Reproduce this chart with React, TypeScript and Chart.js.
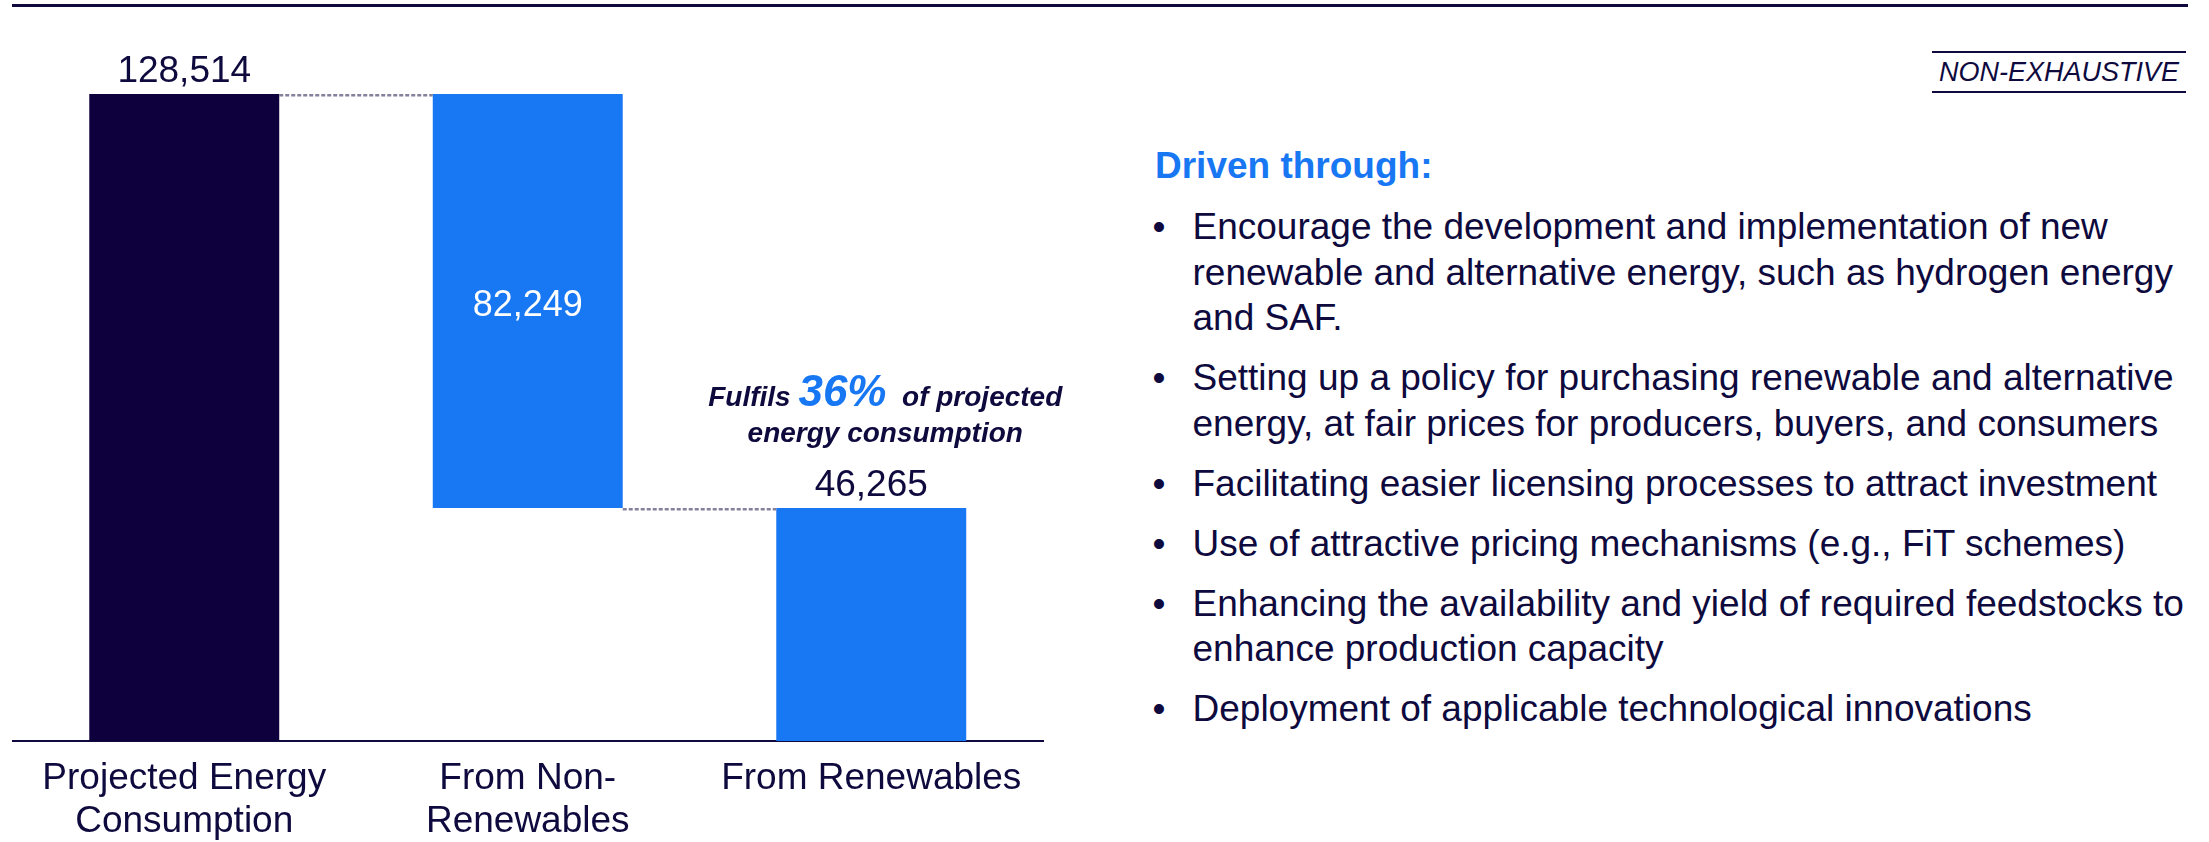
import React, { useEffect, useRef } from "react";
import { Chart, registerables } from "chart.js";

Chart.register(...registerables);

// ---------- data ----------
const categories: string[][] = [
  ["Projected Energy", "Consumption"],
  ["From Non-", "Renewables"],
  ["From Renewables"],
];
const values: number[] = [128514, 82249, 46265];
const valueLabels: string[] = ["128,514", "82,249", "46,265"];
const barColors: string[] = ["#0E003C", "#1877F2", "#1877F2"];
const annotationLine1: string[] = ["Fulfils ", "36%", "  of projected"];
const annotationLine2 = "energy consumption";
const heading = "Driven through:";
const tagText = "NON-EXHAUSTIVE";
const bullets: string[][] = [
  [
    "Encourage the development and implementation of new",
    "renewable and alternative energy, such as hydrogen energy",
    "and SAF.",
  ],
  [
    "Setting up a policy for purchasing renewable and alternative",
    "energy, at fair prices for producers, buyers, and consumers",
  ],
  ["Facilitating easier licensing processes to attract investment"],
  ["Use of attractive pricing mechanisms (e.g., FiT schemes)"],
  [
    "Enhancing the availability and yield of required feedstocks to",
    "enhance production capacity",
  ],
  ["Deployment of applicable technological innovations"],
];

// waterfall ranges built from the values
const ranges: [number, number][] = [
  [0, values[0]],
  [values[0] - values[1], values[0]],
  [0, values[2]],
];
const connectorLevels: number[] = [values[0], values[0] - values[1]];

const NAVY = "#0E0A3E";
const BLUE = "#1877F2";
const FONT = '"Liberation Sans", Arial, sans-serif';

const waterfallPlugin = {
  id: "waterfallExtras",
  afterDatasetsDraw(chart: any) {
    const ctx: CanvasRenderingContext2D = chart.ctx;
    const meta = chart.getDatasetMeta(0);
    const yScale = chart.scales.y;
    const bars = meta.data.map((el: any) =>
      el.getProps(["x", "y", "base", "width"], true)
    );
    ctx.save();
    // dashed connectors
    ctx.strokeStyle = "#85809C";
    ctx.lineWidth = 2.5;
    ctx.setLineDash([4, 2]);
    for (let i = 0; i < bars.length - 1; i++) {
      const a = bars[i];
      const b = bars[i + 1];
      const py = Math.round(yScale.getPixelForValue(connectorLevels[i])) + 1.25;
      ctx.beginPath();
      ctx.moveTo(a.x + a.width / 2, py);
      ctx.lineTo(b.x - b.width / 2, py);
      ctx.stroke();
    }
    ctx.setLineDash([]);

    // value labels
    ctx.textAlign = "center";
    bars.forEach((b: any, i: number) => {
      const top = Math.min(b.y, b.base);
      const bottom = Math.max(b.y, b.base);
      if (i === 1) {
        ctx.fillStyle = "#FFFFFF";
        ctx.font = `36px ${FONT}`;
        ctx.textBaseline = "middle";
        ctx.fillText(valueLabels[i], b.x, (top + bottom) / 2 + 5);
      } else {
        ctx.fillStyle = NAVY;
        ctx.font = `37px ${FONT}`;
        ctx.textBaseline = "alphabetic";
        ctx.fillText(valueLabels[i], b.x, top - 12);
      }
    });

    // annotation above the renewables bar
    const last = bars[2];
    const lastTop = Math.min(last.y, last.base);
    const cx = last.x + 14;
    const fonts = [
      `italic bold 28px ${FONT}`,
      `italic bold 44px ${FONT}`,
      `italic bold 28px ${FONT}`,
    ];
    const colors = [NAVY, BLUE, NAVY];
    const widths = annotationLine1.map((t, k) => {
      ctx.font = fonts[k];
      return ctx.measureText(t).width;
    });
    const total = widths.reduce((s, w) => s + w, 0);
    let x = cx - total / 2;
    ctx.textAlign = "left";
    ctx.textBaseline = "alphabetic";
    annotationLine1.forEach((t, k) => {
      ctx.font = fonts[k];
      ctx.fillStyle = colors[k];
      ctx.fillText(t, x, lastTop - 102);
      x += widths[k];
    });
    ctx.font = `italic bold 28px ${FONT}`;
    ctx.fillStyle = NAVY;
    ctx.textAlign = "center";
    ctx.fillText(annotationLine2, cx, lastTop - 66);
    ctx.restore();
  },
};

function WaterfallChart() {
  const ref = useRef<HTMLCanvasElement | null>(null);
  useEffect(() => {
    if (!ref.current) return;
    const chart = new Chart(ref.current, {
      type: "bar",
      data: {
        labels: categories as any,
        datasets: [
          {
            data: ranges as any,
            backgroundColor: barColors,
            borderWidth: 0,
            barPercentage: 0.553,
            categoryPercentage: 1,
          },
        ],
      },
      options: {
        responsive: false,
        maintainAspectRatio: false,
        devicePixelRatio: 1,
        animation: false,
        layout: { padding: { left: 12.5, right: 57, top: 94, bottom: 0 } },
        plugins: {
          legend: { display: false },
          tooltip: { enabled: false },
          title: { display: false },
        },
        scales: {
          x: {
            grid: { display: false, drawTicks: false, tickLength: 0 },
            border: { display: true, color: NAVY, width: 2 },
            ticks: {
              color: NAVY,
              padding: 16,
              font: { family: FONT, size: 37, lineHeight: 1.16 },
              maxRotation: 0,
              autoSkip: false,
            },
            afterFit: (scale: any) => {
              scale.height = 101;
            },
          },
          y: {
            display: false,
            min: 0,
            max: values[0],
          },
        },
      },
      plugins: [waterfallPlugin],
    });
    return () => chart.destroy();
  }, []);
  return (
    <canvas
      ref={ref}
      width={1100}
      height={842}
      style={{ position: "absolute", left: 0, top: 0, width: 1100, height: 842 }}
    />
  );
}

export default function App() {
  const lineH = 45.5;
  return (
    <div
      style={{
        position: "absolute",
        left: 0,
        top: 0,
        width: 2209,
        height: 842,
        background: "#FFFFFF",
        overflow: "hidden",
        fontFamily: FONT,
        color: NAVY,
      }}
    >
      <div
        style={{
          position: "absolute",
          left: 12,
          top: 3.5,
          width: 2176,
          height: 3,
          background: NAVY,
        }}
      />
      <WaterfallChart />
      <div
        style={{
          position: "absolute",
          left: 1932,
          top: 51,
          width: 254,
          height: 38,
          lineHeight: "38px",
          borderTop: `2px solid ${NAVY}`,
          borderBottom: `2px solid ${NAVY}`,
          textAlign: "center",
          fontStyle: "italic",
          fontSize: 27,
          whiteSpace: "nowrap",
        }}
      >
        {tagText}
      </div>
      <div
        style={{
          position: "absolute",
          left: 1155,
          top: 144,
          lineHeight: "44px",
          fontSize: 37,
          fontWeight: "bold",
          color: BLUE,
          whiteSpace: "nowrap",
        }}
      >
        {heading}
      </div>
      <div style={{ position: "absolute", left: 1152.5, top: 204, fontSize: 37 }}>
        {bullets.map((lines, i) => (
          <div
            key={i}
            style={{
              position: "relative",
              paddingLeft: 40,
              marginTop: i === 0 ? 0 : 14.5,
              lineHeight: `${lineH}px`,
              whiteSpace: "nowrap",
            }}
          >
            <span style={{ position: "absolute", left: 0, top: 0 }}>{"\u2022"}</span>
            {lines.map((ln, j) => (
              <div key={j}>{ln}</div>
            ))}
          </div>
        ))}
      </div>
    </div>
  );
}
